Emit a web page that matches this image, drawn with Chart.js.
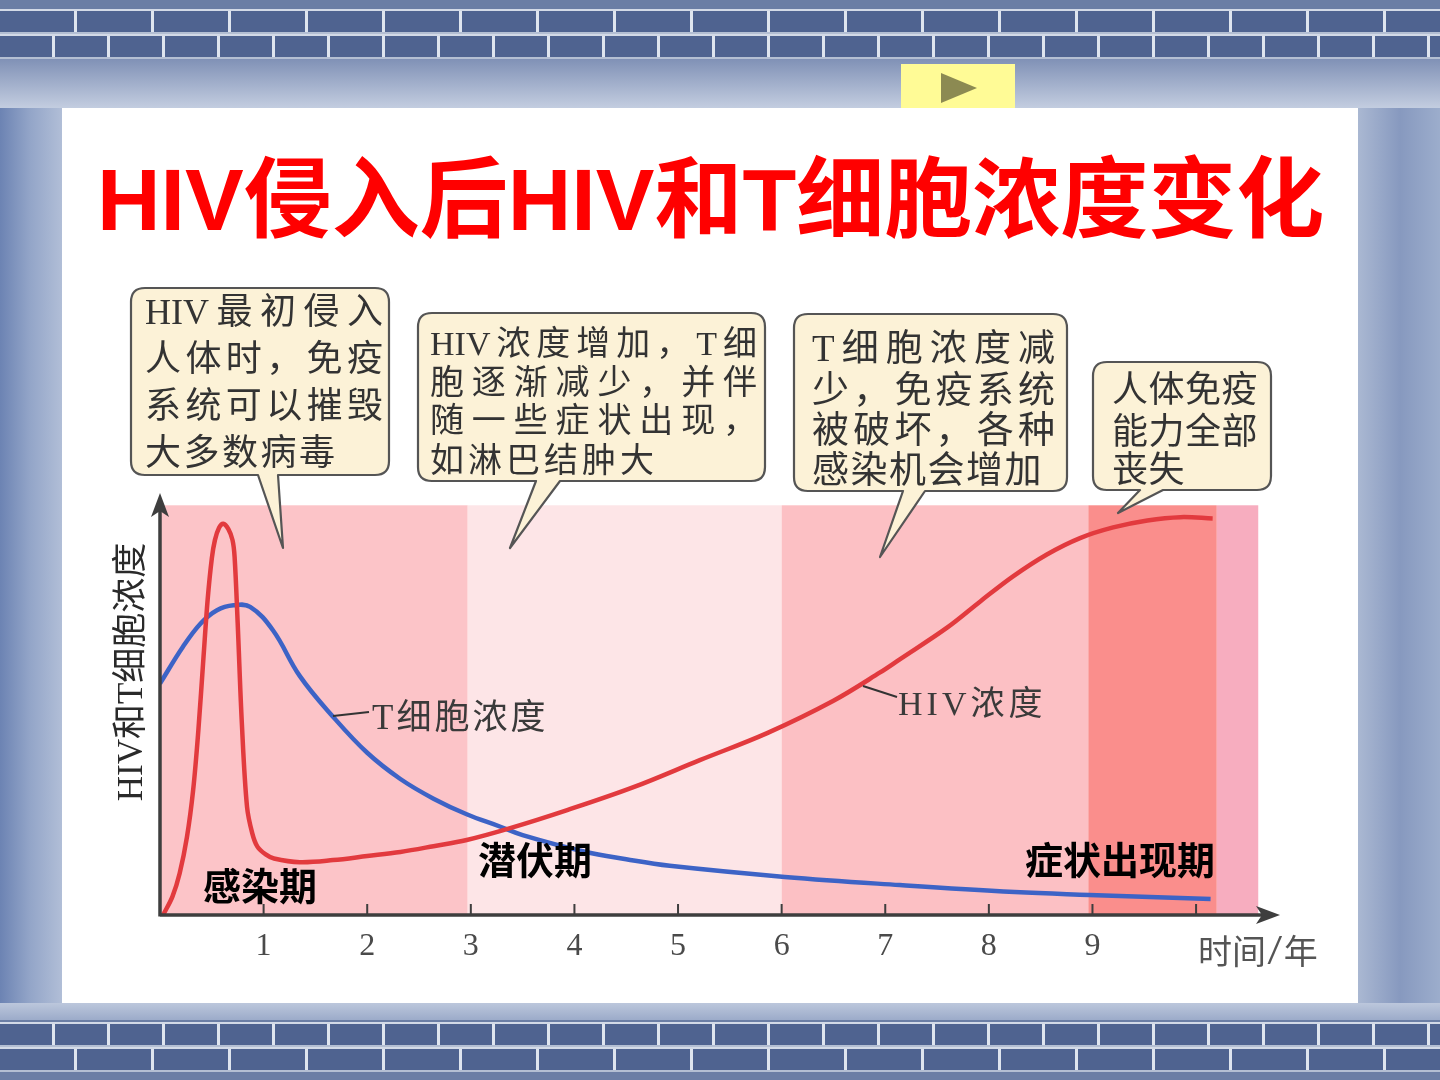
<!DOCTYPE html>
<html><head><meta charset="utf-8">
<script src="https://cdn.jsdelivr.net/npm/chart.js@4.4.1/dist/chart.umd.min.js"></script>
<style>
html,body{margin:0;padding:0;}
body{width:1440px;height:1080px;overflow:hidden;position:relative;
 background:linear-gradient(90deg,#6c83b3 0px,#93a5c8 30px,#b1bed7 62px,#c6d0e2 200px,#c6d0e2 1250px,#aab8d2 1358px,#8799bf 1400px,#9cadcc 1440px);}
.band{position:absolute;left:0;width:1440px;}
.brickrow{position:absolute;left:0;width:1440px;height:21px;background-color:#4f6390;
 border-top:2px solid #d3dae7;border-bottom:2px solid #b4bfd3;}
#panel{position:absolute;left:62px;top:108px;width:1296px;height:895px;background:#fff;}
#nav{position:absolute;left:901px;top:64px;width:114px;height:44px;background:#fffb96;}
#nav div{position:absolute;left:40px;top:9px;width:0;height:0;border-top:15px solid transparent;border-bottom:15px solid transparent;border-left:36px solid #8c8a52;}
canvas{position:absolute;left:0;top:0;}
svg{position:absolute;left:0;top:0;}
.t{position:absolute;white-space:nowrap;}
#title{left:97px;top:150px;font:bold 88px "Liberation Sans","Noto Sans CJK SC",sans-serif;line-height:100px;color:#ff0000;}
.ln{position:absolute;white-space:nowrap;font-family:"Liberation Serif","Noto Sans CJK SC",serif;color:#333;}
.j{text-align:justify;text-align-last:justify;}
.phase{position:absolute;white-space:nowrap;font:700 38px "Noto Sans CJK SC",sans-serif;line-height:40px;color:#000;}
.lab{position:absolute;white-space:nowrap;font-family:"Liberation Serif","Noto Sans CJK SC",serif;color:#3a3a3a;}
</style></head>
<body>
<div class="band" style="top:0;height:60px;background:#6b7ea5;"></div>
<div class="brickrow" style="top:9px;background-image:repeating-linear-gradient(90deg,rgba(0,0,0,0) 0px,rgba(0,0,0,0) 74px,#dfe5ef 74px,#dfe5ef 77px);"></div>
<div class="brickrow" style="top:34px;background-image:repeating-linear-gradient(90deg,rgba(0,0,0,0) 0px,rgba(0,0,0,0) 52px,#dfe5ef 52px,#dfe5ef 55px);"></div>
<div class="band" style="top:59px;height:49px;background:linear-gradient(180deg,#8091b6,#c3cde0);"></div>
<div class="band" style="top:1003px;height:20px;background:linear-gradient(180deg,#bcc7dc,#96a6c6);"></div>
<div class="band" style="top:1020px;height:60px;background:#6b7ea5;"></div>
<div class="brickrow" style="top:1022px;background-image:repeating-linear-gradient(90deg,rgba(0,0,0,0) 0px,rgba(0,0,0,0) 52px,#dfe5ef 52px,#dfe5ef 55px);"></div>
<div class="brickrow" style="top:1047px;background-image:repeating-linear-gradient(90deg,rgba(0,0,0,0) 0px,rgba(0,0,0,0) 74px,#dfe5ef 74px,#dfe5ef 77px);"></div>
<div id="panel"></div>
<div id="nav"><div></div></div>
<canvas id="c" width="1440" height="1080"></canvas>
<svg id="s" width="1440" height="1080"></svg>

<div id="title" class="t">HIV侵入后HIV和T细胞浓度变化</div>

<div class="ln j" style="left:145px;top:289px;width:238px;font-size:36px;line-height:46px;">HIV最初侵入</div>
<div class="ln j" style="left:145px;top:336px;width:238px;font-size:36px;line-height:46px;">人体时，免疫</div>
<div class="ln j" style="left:145px;top:383px;width:238px;font-size:36px;line-height:46px;">系统可以摧毁</div>
<div class="ln" style="left:145px;top:430px;font-size:36px;line-height:46px;letter-spacing:2.5px;">大多数病毒</div>

<div class="ln j" style="left:430px;top:324px;width:327px;font-size:34px;line-height:39px;">HIV浓度增加，T细</div>
<div class="ln j" style="left:430px;top:363px;width:327px;font-size:34px;line-height:39px;">胞逐渐减少，并伴</div>
<div class="ln j" style="left:430px;top:401px;width:327px;font-size:34px;line-height:39px;">随一些症状出现，</div>
<div class="ln" style="left:430px;top:441px;font-size:34px;line-height:39px;letter-spacing:4px;">如淋巴结肿大</div>

<div class="ln j" style="left:812px;top:329px;width:243px;font-size:37px;line-height:40px;">T细胞浓度减</div>
<div class="ln j" style="left:812px;top:371px;width:243px;font-size:37px;line-height:40px;">少，免疫系统</div>
<div class="ln j" style="left:812px;top:411px;width:243px;font-size:37px;line-height:40px;">被破坏，各种</div>
<div class="ln" style="left:812px;top:451px;font-size:37px;line-height:40px;letter-spacing:1.5px;">感染机会增加</div>

<div class="ln" style="left:1112px;top:370px;font-size:36px;line-height:40px;letter-spacing:0.5px;">人体免疫</div>
<div class="ln" style="left:1112px;top:412px;font-size:36px;line-height:40px;letter-spacing:0.5px;">能力全部</div>
<div class="ln" style="left:1112px;top:450px;font-size:36px;line-height:40px;letter-spacing:0.5px;">丧失</div>

<div class="phase" style="left:203px;top:864px;">感染期</div>
<div class="phase" style="left:478px;top:838px;">潜伏期</div>
<div class="phase" style="left:1025px;top:838px;">症状出现期</div>

<div class="lab" style="left:372px;top:698px;font-size:35px;line-height:40px;letter-spacing:3px;">T细胞浓度</div>
<div class="lab" style="left:898px;top:684px;font-size:34px;line-height:40px;letter-spacing:4px;">HIV浓度</div>
<div class="lab" style="left:1198px;top:930px;font-size:34px;line-height:40px;color:#555;">时间<span style="font-size:42px;font-weight:300;display:inline-block;margin:0 3px;transform:scaleX(1.25);">/</span>年</div>
<div class="lab" style="left:-2px;top:652px;width:265px;text-align:center;font-size:35px;line-height:40px;color:#2a2a2a;transform:rotate(-90deg);">HIV和T细胞浓度</div>

<script>
// ---- data ----
const hivX = [0.03,0.12,0.19,0.26,0.32,0.37,0.42,0.46,0.50,0.53,0.57,0.61,0.66,0.70,0.72,0.75,0.79,0.84,0.89,0.94,1.02,1.10,1.35,1.67,2.00,2.32,2.64,2.96,3.38,3.93,4.57,5.21,5.86,6.50,6.95,7.14,7.60,7.92,8.23,8.56,8.88,9.20,9.53,9.85,10.16];
const hivY = [0,4.5,10.2,19,30.5,45,63,77,87,91.5,94.5,95.5,94.2,91.5,87.4,71.1,46.8,26.4,20,16.7,14.8,13.8,12.9,13.4,14.4,15.4,16.8,18.3,21.2,25.6,31.2,37.8,44.4,52.3,59.2,62.4,70.2,76.6,82.6,88.0,92.0,94.6,96.3,97.1,96.8];
const tcellX = [0.0,0.22,0.39,0.55,0.71,0.87,1.09,1.35,1.67,2.00,2.32,2.64,2.96,3.28,3.50,4.09,4.50,4.92,6.03,7.14,8.25,8.97,10.14];
const tcellY = [56.5,65.4,71.1,74.4,75.6,75.2,69.5,58.3,48.4,39.6,33.2,28.4,24.6,21.6,19.5,15.5,13.6,12.0,9.3,7.3,5.6,4.9,3.9];
const xTickValues = [1,2,3,4,5,6,7,8,9,10];
const xTickLabels = ['1','2','3','4','5','6','7','8','9',''];
const phaseStart = [0, 2.97, 6.0, 8.96, 10.2];
const phaseEnd   = [2.97, 6.0, 8.96, 10.2, 10.6];
const phaseTop = 100;
// ---- styles ----
const phaseColors = ['#fcc4c8','#fde5e7','#fcc0c4','#fa8e8c','#f7adbf'];

const slidePlugin = {
  id: 'slide',
  beforeDatasetsDraw(chart) {
    const {ctx, scales:{x, y}} = chart;
    ctx.save();
    for (let i = 0; i < phaseStart.length; i++) {
      const x1 = x.getPixelForValue(phaseStart[i]);
      const x2 = x.getPixelForValue(phaseEnd[i]);
      const yt = y.getPixelForValue(phaseTop);
      const yb = y.getPixelForValue(0);
      ctx.fillStyle = phaseColors[i];
      ctx.fillRect(x1, yt, x2 - x1, yb - yt);
    }
    ctx.restore();
  },
  afterDatasetsDraw(chart) {
    const {ctx, scales:{x, y}, chartArea} = chart;
    const x0 = x.getPixelForValue(0), y0 = y.getPixelForValue(0);
    ctx.save();
    ctx.strokeStyle = '#3e3e3e';
    ctx.fillStyle = '#3e3e3e';
    ctx.lineWidth = 3.5;
    ctx.beginPath();
    ctx.moveTo(x0, y0); ctx.lineTo(chartArea.right - 14, y0);
    ctx.moveTo(x0, y0 + 1.5); ctx.lineTo(x0, chartArea.top + 14);
    ctx.stroke();
    ctx.beginPath();
    ctx.moveTo(chartArea.right, y0);
    ctx.lineTo(chartArea.right - 24, y0 - 9);
    ctx.lineTo(chartArea.right - 18, y0);
    ctx.lineTo(chartArea.right - 24, y0 + 9);
    ctx.closePath(); ctx.fill();
    ctx.beginPath();
    ctx.moveTo(x0, chartArea.top);
    ctx.lineTo(x0 - 9, chartArea.top + 24);
    ctx.lineTo(x0, chartArea.top + 18);
    ctx.lineTo(x0 + 9, chartArea.top + 24);
    ctx.closePath(); ctx.fill();
    ctx.lineWidth = 2;
    ctx.beginPath();
    xTickValues.forEach(v => {
      const px = x.getPixelForValue(v);
      ctx.moveTo(px, y0); ctx.lineTo(px, y0 - 11);
    });
    ctx.stroke();
    ctx.fillStyle = '#4a4a4a';
    ctx.font = '32px "Liberation Serif", serif';
    ctx.textAlign = 'center';
    ctx.textBaseline = 'alphabetic';
    xTickValues.forEach((v, i) => {
      ctx.fillText(xTickLabels[i], x.getPixelForValue(v), y0 + 40);
    });
    ctx.restore();
  }
};

const toPts = (xs, ys) => xs.map((v, i) => ({x: v, y: ys[i]}));

new Chart(document.getElementById('c'), {
  type: 'line',
  data: {
    datasets: [
      {label: 'HIV浓度', data: toPts(hivX, hivY), borderColor: '#e23a3e', borderWidth: 4.5,
       pointRadius: 0, tension: 0.35, fill: false},
      {label: 'T细胞浓度', data: toPts(tcellX, tcellY), borderColor: '#3d63c6', borderWidth: 4.5,
       pointRadius: 0, tension: 0.4, fill: false}
    ]
  },
  options: {
    responsive: false, animation: false, devicePixelRatio: 1,
    layout: {padding: {left: 160, right: 160, top: 493, bottom: 165}},
    scales: {
      x: {type: 'linear', min: 0, max: 10.81, display: false},
      y: {type: 'linear', min: 0, max: 103, display: false}
    },
    plugins: {legend: {display: false}, tooltip: {enabled: false}}
  },
  plugins: [slidePlugin]
});

// callout bubbles and leader lines (layout only)
function bubble(x1, y1, x2, y2, r, bx1, bx2, tx, ty) {
  return `M${x1+r},${y1} H${x2-r} Q${x2},${y1} ${x2},${y1+r} V${y2-r} Q${x2},${y2} ${x2-r},${y2} ` +
         `H${bx2} L${tx},${ty} L${bx1},${y2} H${x1+r} Q${x1},${y2} ${x1},${y2-r} V${y1+r} Q${x1},${y1} ${x1+r},${y1} Z`;
}
const svg = document.getElementById('s');
const shapes = [
  bubble(131, 288, 389, 475, 14, 258, 278, 283, 548),
  bubble(418, 313, 765, 481, 14, 536, 560, 510, 548),
  bubble(794, 314, 1067, 491, 14, 903, 925, 880, 557),
  bubble(1093, 362, 1271, 490, 14, 1140, 1163, 1118, 513)
];
let html = '';
shapes.forEach(d => { html += `<path d="${d}" fill="#fcf2d7" stroke="#555" stroke-width="2.2" stroke-linejoin="round"/>`; });
html += '<line x1="333" y1="716" x2="369" y2="712" stroke="#333" stroke-width="2"/>';
html += '<line x1="863" y1="686" x2="897" y2="697" stroke="#333" stroke-width="2"/>';
svg.innerHTML = html;
</script>
</body></html>
